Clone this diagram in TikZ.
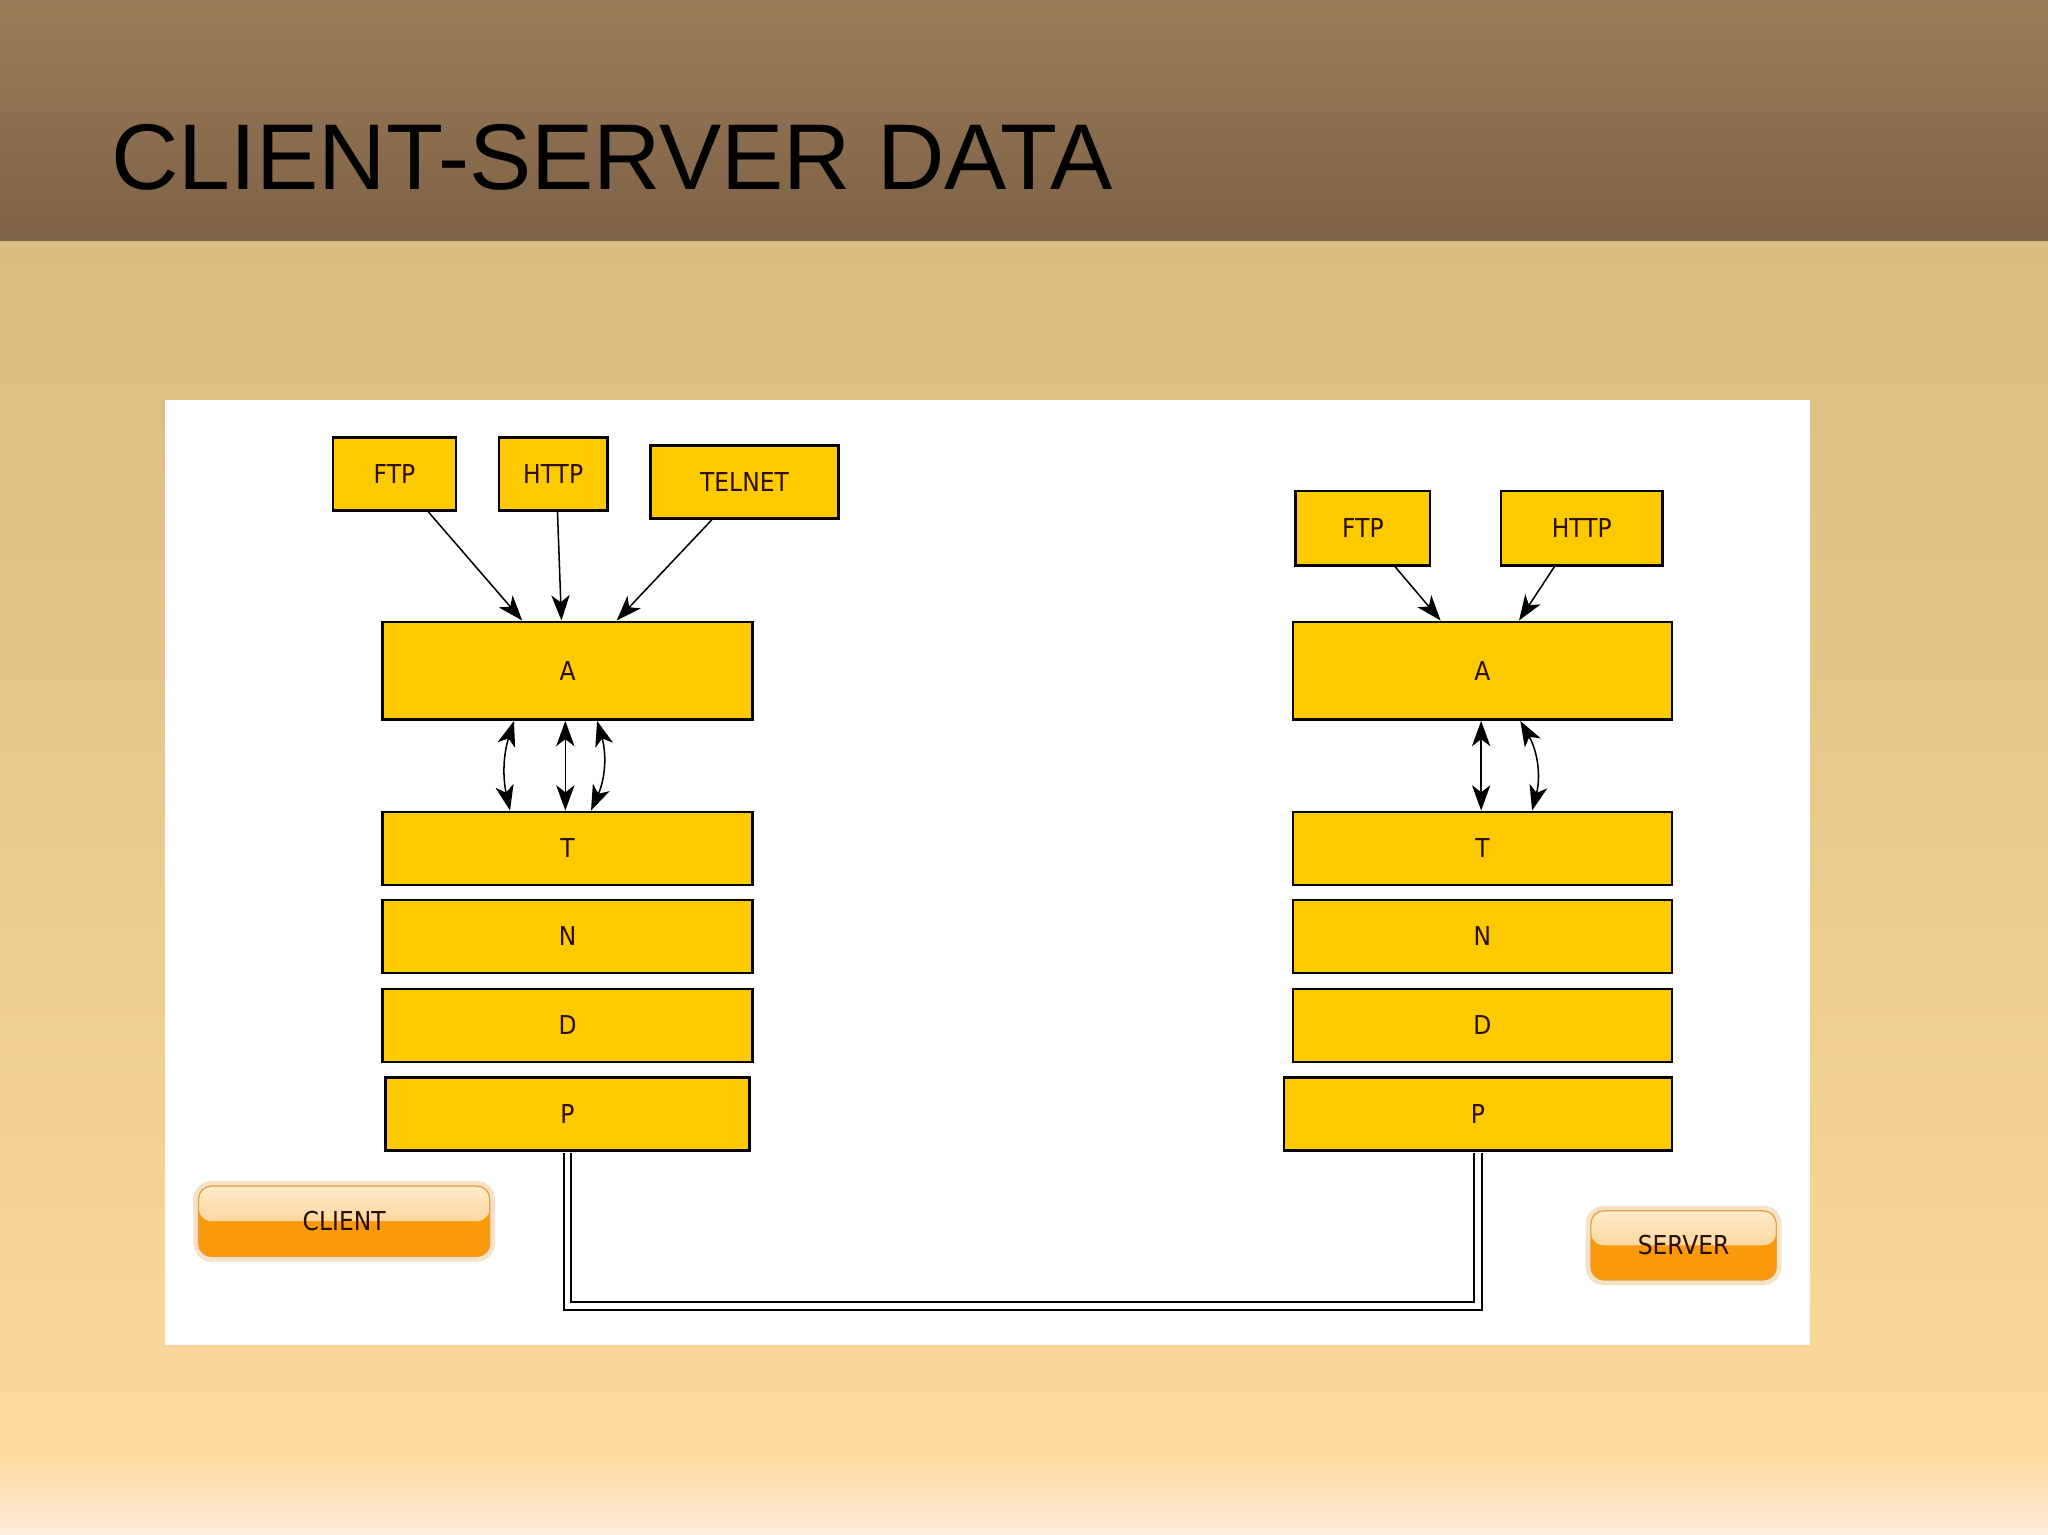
\documentclass[tikz,border=0pt]{standalone}
\usepackage{fontspec}
\setmainfont{Liberation Sans}
\newfontfamily\labelfont[FakeStretch=0.9]{DejaVu Sans}
\usetikzlibrary{arrows.meta}

\definecolor{boxyellow}{HTML}{FDCA00}
\definecolor{labelbrown}{HTML}{2A0E00}
\definecolor{headtop}{HTML}{9B7C57}
\definecolor{headbot}{HTML}{7E6247}
\definecolor{pagetop}{HTML}{D8BC80}
\definecolor{pagemid}{HTML}{FDD99C}
\definecolor{pagelow}{HTML}{FEEEDA}
\definecolor{btnedge}{HTML}{E2A040}
\definecolor{btnlight}{HTML}{FEEBCB}
\definecolor{btnmid}{HTML}{FBC474}
\definecolor{btnorange}{HTML}{FB990C}

\tikzset{>={Stealth[length=5.8mm,width=4.2mm,inset=1.6mm]},
  every node/.style={font=\labelfont\fontsize{17}{20}\selectfont, text=labelbrown},
  layer/.style={draw=black, fill=boxyellow, line width=1.6pt, inner sep=0pt,
    minimum height=16.8mm},
  flow/.style={->, line width=1pt},
  updown/.style={<->, line width=1pt},
  link/.style={double, double distance=1.2mm, line width=0.5mm,
    shorten <=0.8pt, shorten >=0.8pt},
  button/.style={draw=btnedge, line width=0.8pt, rounded corners=3mm,
    fill=btnorange, inner sep=0pt,
    preaction={draw=btnedge!30, line width=2.4mm},
    path picture={\fill[top color=btnlight, bottom color=btnmid]
      (path picture bounding box.north west) rectangle
      (path picture bounding box.east);}}
}

\begin{document}
\begin{tikzpicture}[x=0.3mm,y=-0.3mm]
    \useasboundingbox (0,0) rectangle (1568,1175);
    % slide background
    \fill[top color=headtop, bottom color=headbot] (0,0) rectangle (1568,185);
    \fill[top color=pagetop, bottom color=pagemid] (0,185) rectangle (1568,1112);
    \fill[top color=pagemid, bottom color=pagelow] (0,1112) rectangle (1568,1175);
    \fill[white] (126,306) rectangle (1386,1030);

    \node[font=\fontsize{61}{70}\selectfont, text=black, anchor=base west,
          inner sep=0pt] (title) at (85,145) {CLIENT-SERVER DATA};

    % client stack
    \node[layer, minimum width=28.2mm] (cFTP) at (302,363) {FTP};
    \node[layer, minimum width=24.9mm] (cHTTP) at (423.5,363) {HTTP};
    \node[layer, minimum width=43.2mm] (cTEL) at (570,369) {TELNET};
    \node[layer, minimum width=84.9mm, minimum height=22.5mm] (cA) at (434.5,513.5) {A};
    \node[layer, minimum width=83.7mm] (cP) at (434.5,853) {P};

    % server stack
    \node[layer, minimum width=30.9mm, minimum height=17.1mm] (sFTP) at (1043.5,404.5) {FTP};
    \node[layer, minimum width=37.2mm, minimum height=17.1mm] (sHTTP) at (1211,404.5) {HTTP};
    \node[layer, minimum width=87mm, minimum height=22.5mm] (sA) at (1135,513.5) {A};
    \node[layer, minimum width=89.1mm] (sP) at (1131.5,853) {P};

    \foreach \n/\y in {T/649.5,N/717,D/785}{
        \node[layer, minimum width=84.9mm] (c\n) at (434.5,\y) {\n};
        \node[layer, minimum width=87mm] (s\n) at (1135,\y) {\n};
    }

    \node[button, minimum width=66.9mm, minimum height=16.2mm] (client) at (263.5,935) {CLIENT};
    \node[button, minimum width=42.6mm, minimum height=15.9mm] (server) at (1289,953.5) {SERVER};

    % protocols into A
    \draw[flow] ([xshift=7.8mm]cFTP.south) -- ([xshift=-10.4mm]cA.north);
    \draw[flow] ([xshift=1mm]cHTTP.south) -- ([xshift=-1.4mm]cA.north);
    \draw[flow] ([xshift=-7.5mm]cTEL.south) -- ([xshift=11.3mm]cA.north);
    \draw[flow] ([xshift=7.4mm]sFTP.south) -- ([xshift=-9.6mm]sA.north);
    \draw[flow] ([xshift=-6.3mm]sHTTP.south) -- ([xshift=8.4mm]sA.north);

    % A <-> T
    \draw[updown] ([xshift=-12.3mm]cA.south) to[bend right=15] ([xshift=-13.2mm]cT.north);
    \draw[updown] ([xshift=-0.5mm]cA.south) -- ([xshift=-0.5mm]cT.north);
    \draw[updown] ([xshift=6.8mm]cA.south) to[bend left=20] ([xshift=5.4mm]cT.north);
    \draw[updown] ([xshift=-0.3mm]sA.south) -- ([xshift=-0.3mm]sT.north);
    \draw[updown] ([xshift=8.7mm]sA.south) to[bend left=22] ([xshift=11.4mm]sT.north);

    % physical link
    \draw[link] (cP.south) -- ++(0,118) -| (sP.south);
\end{tikzpicture}
\end{document}
